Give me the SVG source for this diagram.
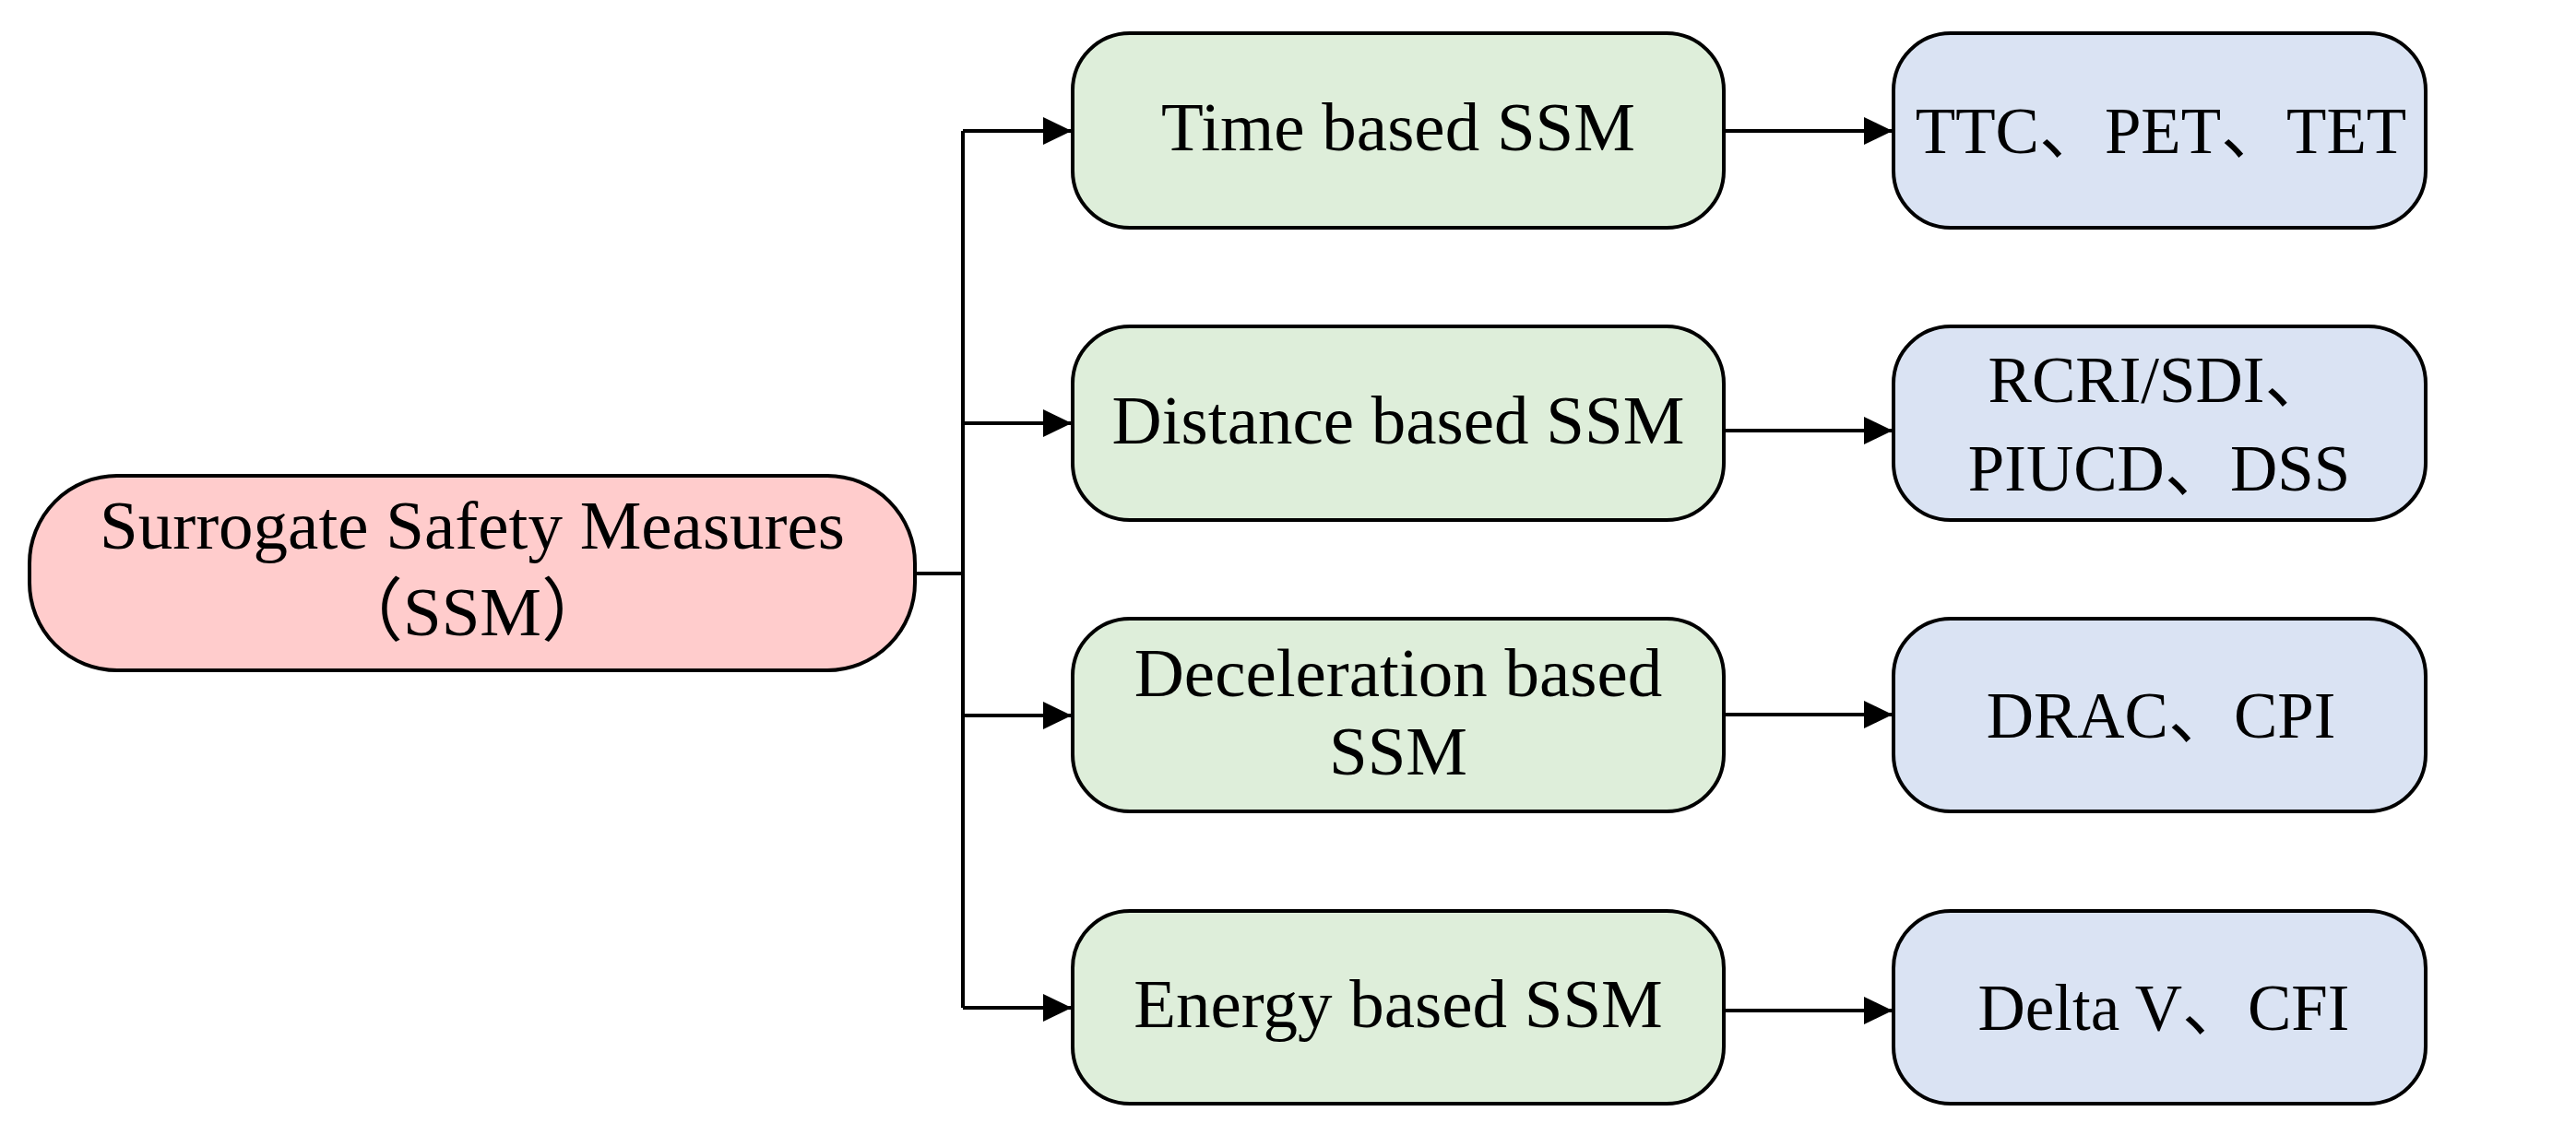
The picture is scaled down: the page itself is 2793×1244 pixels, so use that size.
<svg xmlns="http://www.w3.org/2000/svg" width="2793" height="1244" viewBox="0 0 2793 1244">
<style>
.box{stroke:#000;stroke-width:4}
.root{fill:#FFCCCC}
.mid{fill:#DEEEDA}
.leaf{fill:#DAE3F3}
.t{font-family:"Palatino Linotype","Book Antiqua","Liberation Serif","Noto Sans CJK SC",serif;font-size:75px;fill:#000;text-anchor:middle}
.s{font-size:71px}
.c{fill:none;stroke:#000;stroke-width:4}
</style>
<defs>
<marker id="ah" markerUnits="userSpaceOnUse" markerWidth="32" markerHeight="32" refX="31" refY="15" orient="auto">
<path d="M0,0 L31,15 L0,30 Z" fill="#000"/>
</marker>
</defs>
<rect width="2793" height="1244" fill="#fff"/>
<g id="connectors">
<path class="c" d="M992,622 H1044"/>
<path class="c" d="M1044,142 V1093"/>
<path class="c" d="M1044,142 H1162" marker-end="url(#ah)"/>
<path class="c" d="M1044,459 H1162" marker-end="url(#ah)"/>
<path class="c" d="M1044,776 H1162" marker-end="url(#ah)"/>
<path class="c" d="M1044,1093 H1162" marker-end="url(#ah)"/>
<path class="c" d="M1869,142 H2052" marker-end="url(#ah)"/>
<path class="c" d="M1869,467 H2052" marker-end="url(#ah)"/>
<path class="c" d="M1869,775 H2052" marker-end="url(#ah)"/>
<path class="c" d="M1869,1096 H2052" marker-end="url(#ah)"/>
</g>
<g id="root">
<rect class="box root" x="32" y="516" width="960" height="211" rx="95" ry="95"/>
<text class="t" x="512" y="595">Surrogate Safety Measures</text>
<text class="t" x="512" y="689">（SSM）</text>
</g>
<g id="time">
<rect class="box mid" x="1163" y="36" width="706" height="211" rx="62" ry="62"/>
<text class="t" x="1516" y="163">Time based SSM</text>
</g>
<g id="distance">
<rect class="box mid" x="1163" y="354" width="706" height="210" rx="62" ry="62"/>
<text class="t" x="1516" y="481">Distance based SSM</text>
</g>
<g id="deceleration">
<rect class="box mid" x="1163" y="671" width="706" height="209" rx="62" ry="62"/>
<text class="t" x="1516" y="755">Deceleration based</text>
<text class="t" x="1516" y="840">SSM</text>
</g>
<g id="energy">
<rect class="box mid" x="1163" y="988" width="706" height="209" rx="62" ry="62"/>
<text class="t" x="1516" y="1114">Energy based SSM</text>
</g>
<g id="time-leaf">
<rect class="box leaf" x="2053" y="36" width="577" height="211" rx="62" ry="62"/>
<text class="t s" x="2343" y="166">TTC、PET、TET</text>
</g>
<g id="distance-leaf">
<rect class="box leaf" x="2053" y="354" width="577" height="210" rx="62" ry="62"/>
<text class="t s" x="2341" y="436">RCRI/SDI、</text>
<text class="t s" x="2341" y="532">PIUCD、DSS</text>
</g>
<g id="deceleration-leaf">
<rect class="box leaf" x="2053" y="671" width="577" height="209" rx="62" ry="62"/>
<text class="t s" x="2343" y="800">DRAC、CPI</text>
</g>
<g id="energy-leaf">
<rect class="box leaf" x="2053" y="988" width="577" height="209" rx="62" ry="62"/>
<text class="t s" x="2346" y="1117">Delta V、CFI</text>
</g>
</svg>
